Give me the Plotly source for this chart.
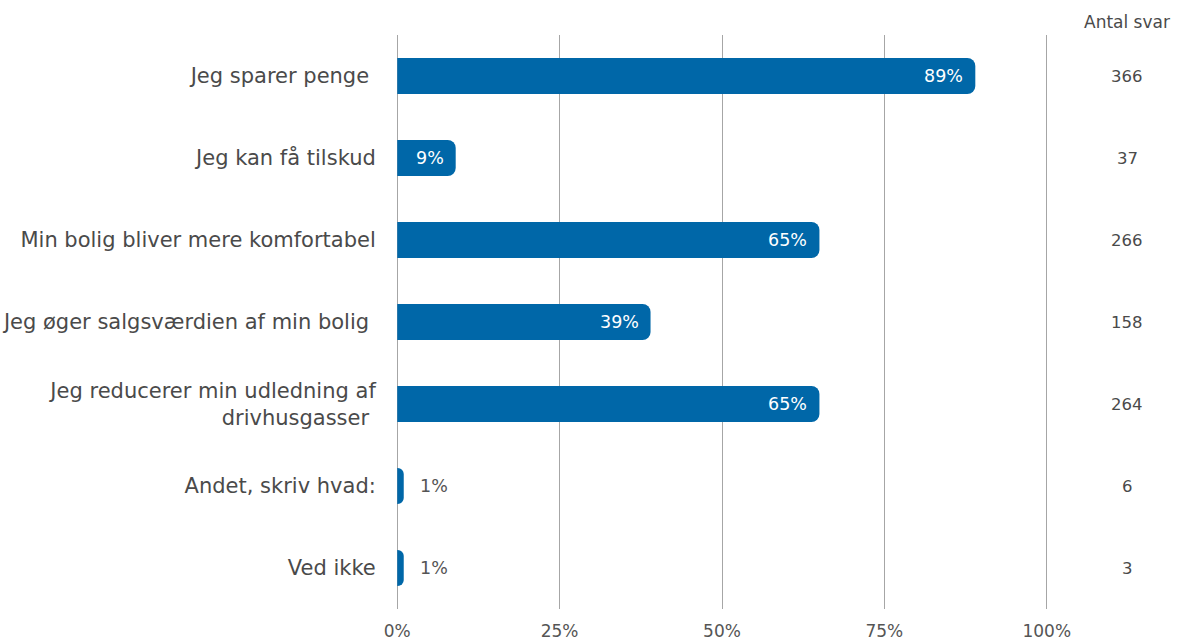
import plotly.graph_objects as go

categories = [
    "Jeg sparer penge ",
    "Jeg kan få tilskud",
    "Min bolig bliver mere komfortabel",
    "Jeg øger salgsværdien af min bolig ",
    "Jeg reducerer min udledning af<br>drivhusgasser ",
    "Andet, skriv hvad:",
    "Ved ikke",
]
shares = [0.89, 0.09, 0.65, 0.39, 0.65, 0.01, 0.01]
share_labels = ["89%", "9%", "65%", "39%", "65%", "1%", "1%"]
antal_svar = [366, 37, 266, 158, 264, 6, 3]
tick_vals = [0, 0.25, 0.5, 0.75, 1.0]
tick_text = ["0%", "25%", "50%", "75%", "100%"]

BAR = "#0067A8"
GRAY = "#555555"
FONT = "DejaVu Sans"

W, H = 1180, 641
ml, mr, mt, mb = 394, 130, 35, 32
pw = W - ml - mr

def px_to_paper(px):
    return (px - ml) / pw

fig = go.Figure()
fig.add_trace(go.Bar(
    x=shares, y=categories, orientation="h",
    marker=dict(color=BAR, line=dict(width=0)),
    hoverinfo="skip",
))

annotations = []
for cat, v, lab in zip(categories, shares, share_labels):
    inside = v > 0.05
    annotations.append(dict(
        x=v, y=cat, xref="x", yref="y", text=lab, showarrow=False,
        xanchor="right" if inside else "left",
        xshift=-10 if inside else 14,
        font=dict(family=FONT, size=17.5, color="white" if inside else GRAY),
    ))
for cat, n in zip(categories, antal_svar):
    annotations.append(dict(
        x=px_to_paper(1127), y=cat, xref="paper", yref="y", text=str(n),
        showarrow=False, xanchor="center",
        font=dict(family=FONT, size=16.5, color="#4A4A4A"),
    ))
annotations.append(dict(
    x=px_to_paper(1127), y=1, xref="paper", yref="paper", yshift=13,
    text="Antal svar", showarrow=False, xanchor="center", yanchor="middle",
    font=dict(family=FONT, size=17, color="#4A4A4A"),
))

fig.update_layout(
    width=W, height=H,
    margin=dict(l=ml, r=mr, t=mt, b=mb, pad=0, autoexpand=False),
    paper_bgcolor="white", plot_bgcolor="white",
    barcornerradius=8,
    bargap=0.56,
    showlegend=False,
    font=dict(family=FONT, size=16, color=GRAY),
    annotations=annotations,
    xaxis=dict(
        range=[-0.005, 1.005], tickvals=tick_vals, ticktext=tick_text,
        showgrid=True, gridcolor="#A6A6A6", gridwidth=1, zeroline=False,
        showline=False, ticks="outside", ticklen=7, tickcolor="rgba(0,0,0,0)",
        tickfont=dict(family=FONT, size=17, color=GRAY), fixedrange=True,
        automargin=False,
    ),
    yaxis=dict(
        autorange="reversed", showgrid=False, zeroline=False, showline=False,
        ticks="outside", ticklen=13, tickcolor="rgba(0,0,0,0)",
        tickfont=dict(family=FONT, size=21, color="#4A4A4A"), fixedrange=True,
        automargin=False,
    ),
)

fig.write_html(
    "out.html",
    config={"displayModeBar": False, "staticPlot": True},
    post_script="document.body.style.margin='0px';",
)
